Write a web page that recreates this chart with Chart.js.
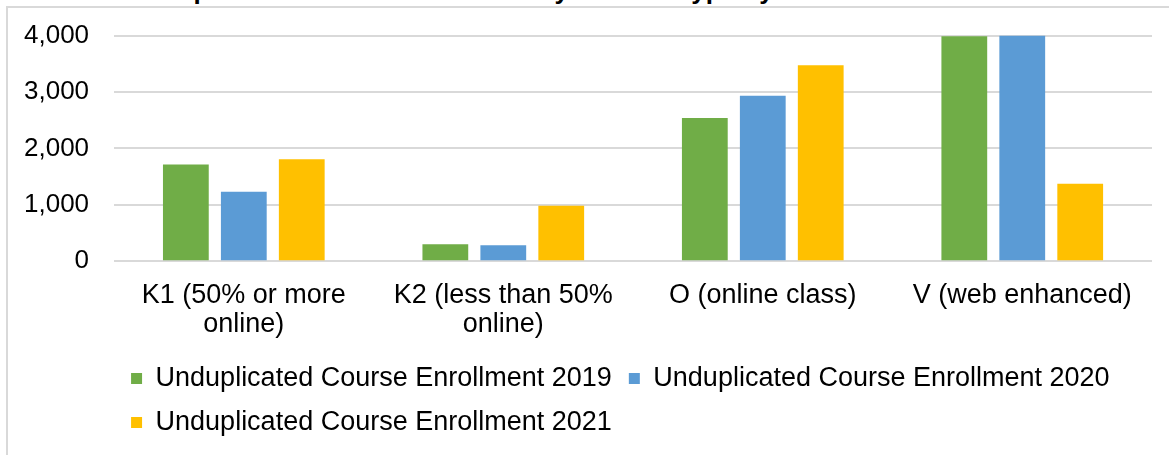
<!DOCTYPE html>
<html>
<head>
<meta charset="utf-8">
<script src="https://cdn.jsdelivr.net/npm/chart.js@4"></script>
<style>
  html, body { margin: 0; padding: 0; background: #fff; overflow: hidden; width: 1169px; height: 455px; position: relative; }
  .title {
    position: absolute; left: 127px; top: -25px; white-space: nowrap;
    font: bold 26px 'Liberation Sans', Arial, sans-serif; line-height: 30px; color: #000;
  }
  .frame {
    position: absolute; left: 6px; top: 6px; width: 1163px; height: 449px;
    border-left: 2px solid #d9d9d9; border-top: 2px solid #d9d9d9;
  }
  #enrollChart { position: absolute; left: -1px; top: -5px; display: block; }
</style>
</head>
<body>
<div class="title">Unduplicated Course Enrollment by Section Type by Year</div>
<div class="frame"></div>
<canvas id="enrollChart" width="1153" height="451"></canvas>
<script>
// section types (x axis)
var categories = [
    ['K1 (50% or more', 'online)'],
    ['K2 (less than 50%', 'online)'],
    'O (online class)',
    'V (web enhanced)'
];
var seriesNames = [
    'Unduplicated Course Enrollment 2019',
    'Unduplicated Course Enrollment 2020',
    'Unduplicated Course Enrollment 2021'
];
var enroll2019 = [1714, 300, 2541, 3990];
var enroll2020 = [1232, 282, 2934, 4000];
var enroll2021 = [1809, 985, 3476, 1375];
var yTicks = [0, 1000, 2000, 3000, 4000];

var colors = ['#70ad47', '#5b9bd5', '#ffc000'];
var fontFamily = "'Liberation Sans', Arial, sans-serif";

let ctx = document.getElementById('enrollChart').getContext('2d');

let enrollChart = new Chart(ctx, {
    type: 'bar',
    data: {
        labels: categories,
        datasets: [enroll2019, enroll2020, enroll2021].map(function (vals, i) {
            return {
                label: seriesNames[i],
                data: vals,
                backgroundColor: colors[i],
                categoryPercentage: 0.67,
                barPercentage: 0.79
            };
        })
    },
    options: {
        responsive: false,
        animation: false,
        layout: { padding: 0 },
        plugins: {
            tooltip: { enabled: false },
            legend: {
                position: 'bottom',
                align: 'start',
                fullSize: false,
                labels: {
                    boxWidth: 11,
                    boxHeight: 11,
                    padding: 17,
                    color: '#000',
                    font: { family: fontFamily, size: 27 }
                }
            }
        },
        scales: {
            x: {
                grid: { display: false },
                border: { display: false },
                ticks: {
                    color: '#000',
                    padding: 12,
                    maxRotation: 0,
                    autoSkip: false,
                    font: { family: fontFamily, size: 27, lineHeight: 1.07 }
                },
                afterFit: function (scale) { scale.height -= 3; }
            },
            y: {
                min: 0,
                max: 4000,
                afterBuildTicks: function (scale) {
                    scale.ticks = yTicks.map(function (v) { return { value: v }; });
                },
                border: { display: false },
                grid: { color: '#d9d9d9', lineWidth: 2, drawTicks: false },
                ticks: {
                    color: '#000',
                    padding: 25,
                    font: { family: fontFamily, size: 26 },
                    callback: function (v) { return v.toLocaleString('en-US'); }
                }
            }
        }
    }
});
</script>
</body>
</html>
